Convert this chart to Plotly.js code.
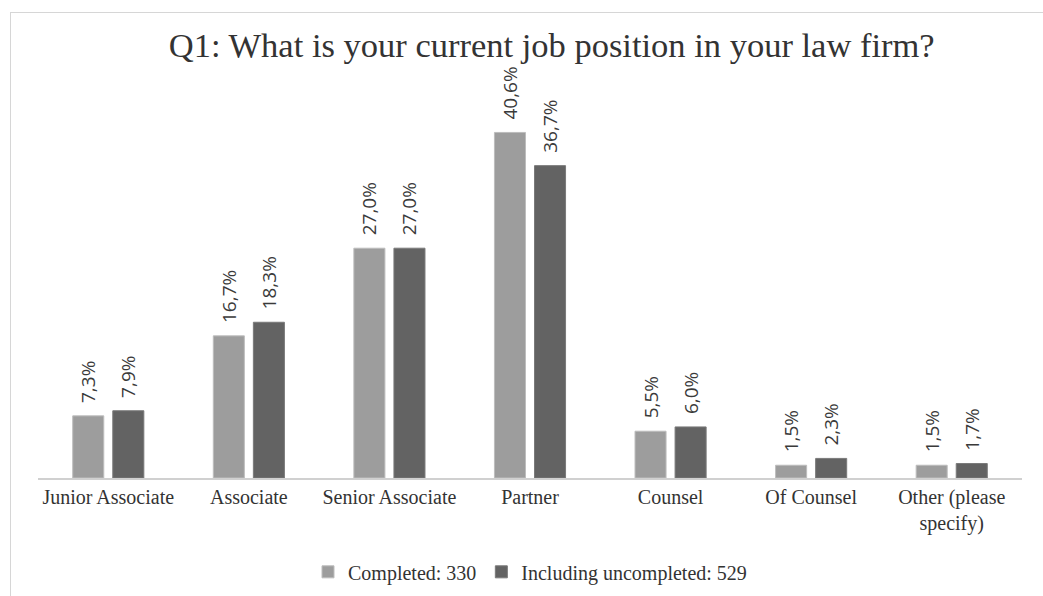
<!DOCTYPE html>
<html>
<head>
<meta charset="utf-8">
<script src="https://cdn.plot.ly/plotly-3.0.1.min.js"></script>
<style>
html,body{margin:0;padding:0;background:#fff;}
#wrap{position:relative;width:1043px;height:596px;}
#chart{position:absolute;left:0;top:0;width:1043px;height:596px;}
#frame{position:absolute;left:10px;top:12px;width:1040px;height:600px;border-top:1px solid #d6d6d6;border-left:1px solid #d6d6d6;pointer-events:none;}
</style>
</head>
<body>
<div id="wrap"><div id="chart"></div><div id="frame"></div></div>
<script>
const categories = ["Junior Associate", "Associate", "Senior Associate", "Partner", "Counsel", "Of Counsel", "Other (please<br>specify)"];
const completed = [7.3, 16.7, 27.0, 40.6, 5.5, 1.5, 1.5];
const including = [7.9, 18.3, 27.0, 36.7, 6.0, 2.3, 1.7];
const seriesNames = ["Completed: 330", "Including uncompleted: 529"];

// value label: comma decimal, small leading pad so the label sits clear of the bar
function fmt(v){ return '\u00a0\u00a0' + v.toFixed(1).replace('.', ',') + '%'; }

const labelFont = {family: "Open Sans, Noto Sans, sans-serif", size: 19, color: "#3a3a3a"};

const traces = [
  {type:'bar', name: seriesNames[0], x: categories, y: completed,
   text: completed.map(fmt), textposition:'outside', textangle:-90, constraintext:'none',
   textfont: labelFont, cliponaxis:false, hoverinfo:'none',
   marker:{color:'#9d9d9d', line:{color:'#bdbdbd', width:1}}},
  {type:'bar', name: seriesNames[1], x: categories, y: including,
   text: including.map(fmt), textposition:'outside', textangle:-90, constraintext:'none',
   textfont: labelFont, cliponaxis:false, hoverinfo:'none',
   marker:{color:'#636363', line:{color:'#7a7a7a', width:1}}}
];

const layout = {
  width:1043, height:596,
  margin:{l:38, r:21, t:95, b:118, autoexpand:false},
  paper_bgcolor:'#fff', plot_bgcolor:'#fff',
  font:{family:"Liberation Serif, DejaVu Serif, serif", color:'#333'},
  title:{text:"Q1: What is your current job position in your law firm?",
         font:{family:"Liberation Serif, serif", size:34.5, color:'#333'},
         x:0.529, xanchor:'center', y:0.925, yanchor:'middle'},
  barmode:'group', bargap:0.43, bargroupgap:0.225,
  xaxis:{showgrid:false, showline:true, linecolor:'#d0d0d0', linewidth:1.5,
         ticks:'', ticklen:0, tickfont:{family:"Liberation Serif, serif", size:20, color:'#333'},
         tickangle:0, automargin:false},
  yaxis:{range:[0,45], showgrid:false, zeroline:false, showline:false,
         showticklabels:false, ticks:''},
  showlegend:true,
  legend:{orientation:'h', x:0.5, xanchor:'center', y:-0.245, yanchor:'middle',
          font:{family:"Liberation Serif, serif", size:20, color:'#333'},
          itemwidth:30, tracegroupgap:0}
};

Plotly.newPlot('chart', traces, layout, {displayModeBar:false, staticPlot:true});
</script>
</body>
</html>
